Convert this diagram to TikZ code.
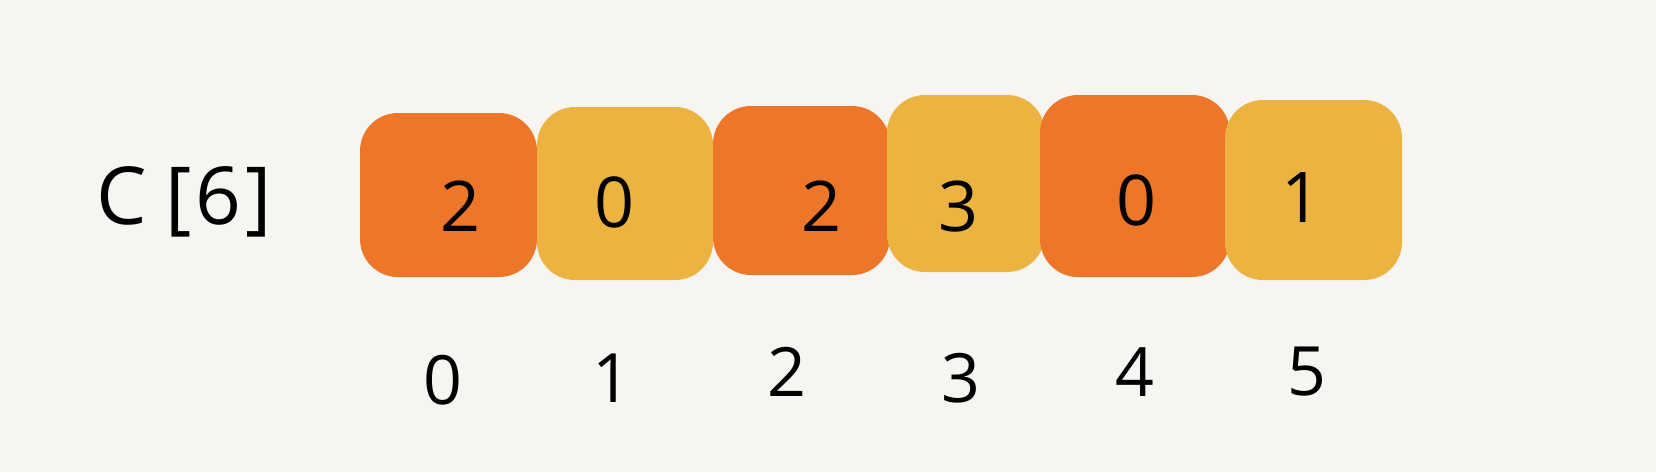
\documentclass[tikz,border=0pt]{standalone}
\usepackage{fontspec}
\setmainfont{Open Sans}
\definecolor{bg}{HTML}{F7F5F1}
\definecolor{orng}{HTML}{EE7629}
\definecolor{yell}{HTML}{EDB340}
\begin{document}
\begin{tikzpicture}[x=1pt,y=-1pt,
  cell/.style={rounded corners=38pt,inner sep=0pt,draw=none},
  val/.style={font=\fontsize{70}{70}\selectfont,inner sep=0pt},
  idx/.style={font=\fontsize{68}{68}\selectfont,inner sep=0pt}]
\fill[bg] (0,0) rectangle (1656,472);
\useasboundingbox (0,0) rectangle (1656,472);
\node[cell,fill=orng,minimum width=177pt,minimum height=164pt] (b0) at (448.5,195) {};
\node[cell,fill=yell,minimum width=176pt,minimum height=173pt] (b1) at (625,193.5) {};
\node[cell,fill=orng,minimum width=177pt,minimum height=169pt] (b2) at (801.5,190.5) {};
\node[cell,fill=yell,minimum width=158pt,minimum height=177pt] (b3) at (966,183.5) {};
\node[cell,fill=orng,minimum width=190pt,minimum height=182pt] (b4) at (1135,186) {};
\node[cell,fill=yell,minimum width=177pt,minimum height=180pt] (b5) at (1313.5,190) {};
\node[val] (v0) at (461,206) {2};
\node[val] (v1) at (615,202) {0};
\node[val] (v2) at (821,206) {2};
\node[val] (v3) at (958,206) {3};
\node[val] (v4) at (1136,200) {0};
\node[val] (v5) at (1301,198) {1};
\node[idx] (i0) at (443,380) {0};
\node[idx] (i1) at (612,378) {1};
\node[idx] (i2) at (787,372) {2};
\node[idx] (i3) at (961,378) {3};
\node[idx] (i4) at (1135,372) {4};
\node[idx] (i5) at (1307,372) {5};
\node[font=\fontsize{80}{80}\selectfont,inner sep=0pt] (lbl) at (184,202) {C\hspace{18pt}[\hspace{4pt}6\hspace{4pt}]};
\end{tikzpicture}
\end{document}
